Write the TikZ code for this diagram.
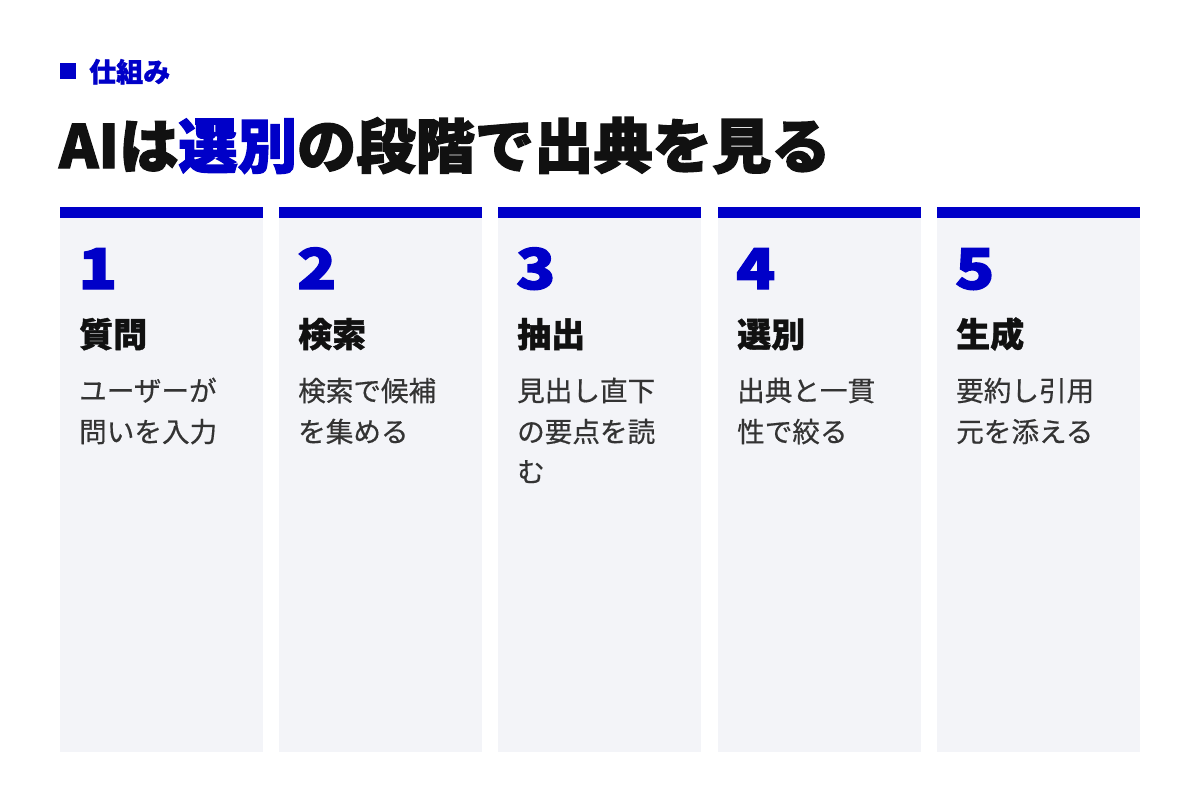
\documentclass[tikz,border=0pt]{standalone}
\usepackage{fontspec}
\setmainfont{Noto Sans CJK JP}
\newfontfamily\heavyfont{Noto Sans CJK JP}[BoldFeatures={FakeBold=2.2}]
\newfontfamily\numfont{Noto Sans CJK JP}[BoldFeatures={FakeBold=2.6,FakeStretch=1.15}]
\newfontfamily\headfont{Noto Sans CJK JP}[BoldFeatures={FakeBold=1.0}]
\newfontfamily\bodyfont{Noto Sans CJK JP}[FakeBold=0.5]
\definecolor{accent}{HTML}{0000C8}
\definecolor{panelbg}{HTML}{F3F4F8}
\definecolor{bodytext}{HTML}{333333}
\definecolor{headtext}{HTML}{111111}
\tikzset{
  numtext/.style={anchor=base west, inner sep=0pt, text=accent, font=\numfont\bfseries\fontsize{56}{60}\selectfont},
  headtextstyle/.style={anchor=base west, inner sep=0pt, text=headtext, font=\headfont\bfseries\fontsize{34}{40}\selectfont},
  bodyline/.style={anchor=base west, inner sep=0pt, text=bodytext, font=\bodyfont\fontsize{27.6}{41}\selectfont},
}
\begin{document}
\begin{tikzpicture}[x=1pt,y=-1pt]
\useasboundingbox (0,0) rectangle (1200,800);
\fill[white] (0,0) rectangle (1200,800);
% label
\fill[accent] (60,63) rectangle (76,79);
\node[anchor=base west, inner sep=0pt, text=accent, font=\headfont\bfseries\fontsize{27}{30}\selectfont] (label) at (89,82) {仕組み};
% title
\node[anchor=base west, inner sep=0pt, text=headtext, font=\heavyfont\bfseries\fontsize{59.3}{64}\selectfont] (title) at (59,168) {AIは\textcolor{accent}{選別}の段階で出典を見る};
% panels
\foreach \i/\x/\num/\head/\la/\lb/\lc in {
  1/60/1/質問/ユーザーが/問いを入力/,
  2/279/2/検索/検索で候補/を集める/,
  3/498/3/抽出/見出し直下/の要点を読/む,
  4/718/4/選別/出典と一貫/性で絞る/,
  5/937/5/生成/要約し引用/元を添える/}{
  \fill[panelbg] (\x,218) rectangle ++(203,534);
  \fill[accent] (\x,207) rectangle ++(203,11);
  \node[numtext] (num\i) at (\x+18,289) {\num};
  \node[headtextstyle] (head\i) at (\x+19,347) {\head};
  \node[bodyline] (la\i) at (\x+19,401) {\la};
  \node[bodyline] (lb\i) at (\x+19,442) {\lb};
  \node[bodyline] (lc\i) at (\x+19,482) {\lc};
}
\end{tikzpicture}
\end{document}
